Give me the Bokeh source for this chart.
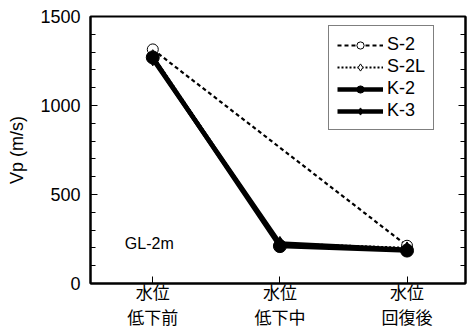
from bokeh.plotting import figure
from bokeh.models import Range1d, FixedTicker, LinearAxis, Legend, LegendItem
from bokeh.embed import file_html
from bokeh.resources import INLINE
from bokeh.core.properties import value

stages = ["水位\n低下前", "水位\n低下中", "水位\n回復後"]
xpos = [0, 1, 2]
s2_x = [0, 2]
s2_y = [1315, 212]
s2l = [1280, 225, 200]
k2 = [1270, 210, 185]
k3 = [1262, 225, 190]

FONT = "Liberation Sans"

p = figure(width=470, height=331, output_backend="svg", toolbar_location=None,
           x_range=Range1d(-0.49, 2.46), y_range=Range1d(0, 1500),
           min_border_left=90, min_border_right=5, min_border_top=16, min_border_bottom=48)
p.xgrid.visible = False
p.ygrid.visible = False
p.outline_line_color = "black"
p.outline_line_width = 2
p.background_fill_color = "white"
p.border_fill_color = "white"

r1l = p.line(s2_x, s2_y, line_color="black", line_width=2.2, line_dash="4 3")
r1m = p.scatter(s2_x, s2_y, marker="circle", size=11, fill_color="white", line_color="black", line_width=1)
r2l = p.line(xpos, s2l, line_color="black", line_width=2.2, line_dash="2 2")
r2m = p.scatter(xpos, s2l, marker="diamond", size=12, fill_color="white", line_color="black", line_width=1)
r3l = p.line(xpos, k2, line_color="black", line_width=4.5)
r3m = p.scatter(xpos, k2, marker="circle", size=13, fill_color="black", line_color="black")
r4l = p.line(xpos, k3, line_color="black", line_width=4.5)
r4m = p.scatter(xpos, k3, marker="diamond", size=14, fill_color="black", line_color="black")

p.text(x=[-0.22], y=[226], text=["GL-2m"], text_font=value(FONT), text_font_size="16px",
       text_baseline="middle", text_align="left", text_color="black")

yticks = [0, 500, 1000, 1500]
yminor = [i * 100 for i in range(16)]

p.yaxis.ticker = FixedTicker(ticks=yticks, minor_ticks=yminor)
p.yaxis.axis_label = "Vp (m/s)"
p.yaxis.axis_label_text_font = FONT
p.yaxis.axis_label_text_font_size = "18px"
p.yaxis.axis_label_text_font_style = "normal"
p.yaxis.axis_label_text_color = "black"
p.yaxis.axis_label_standoff = 10
p.yaxis.major_label_text_font = FONT
p.yaxis.major_label_text_font_size = "18px"
p.yaxis.major_label_text_color = "black"
p.yaxis.major_tick_in = 7
p.yaxis.major_tick_out = 0
p.yaxis.minor_tick_in = 5
p.yaxis.minor_tick_out = 0
p.yaxis.axis_line_width = 2
p.yaxis.major_label_standoff = 10

p.xaxis.ticker = FixedTicker(ticks=xpos)
p.xaxis.major_label_overrides = {x: s for x, s in zip(xpos, stages)}
p.xaxis.major_label_text_font = "Noto Sans CJK JP"
p.xaxis.major_label_text_font_size = "17px"
p.xaxis.major_label_text_color = "black"
p.xaxis.major_label_text_line_height = 1.0
p.xaxis.major_tick_in = 7
p.xaxis.major_tick_out = 0
p.xaxis.minor_tick_in = 0
p.xaxis.minor_tick_out = 0
p.xaxis.axis_line_width = 2
p.xaxis.major_label_standoff = -5

ry = LinearAxis(ticker=FixedTicker(ticks=yticks, minor_ticks=yminor))
ry.major_label_overrides = {t: "" for t in yticks}
ry.major_tick_in = 7
ry.major_tick_out = 0
ry.minor_tick_in = 5
ry.minor_tick_out = 0
ry.axis_line_width = 2
p.add_layout(ry, "right")

legend = Legend(items=[
    LegendItem(label="S-2", renderers=[r1l, r1m]),
    LegendItem(label="S-2L", renderers=[r2l, r2m]),
    LegendItem(label="K-2", renderers=[r3l, r3m]),
    LegendItem(label="K-3", renderers=[r4l, r4m]),
], location=(238, 153))
legend.label_text_font = FONT
legend.label_text_font_size = "18px"
legend.label_text_color = "black"
legend.glyph_width = 46
legend.glyph_height = 18
legend.label_height = 18
legend.spacing = 1
legend.padding = 8
legend.margin = 0
legend.label_standoff = 4
legend.border_line_color = "black"
legend.border_line_width = 1.5
legend.background_fill_alpha = 1
p.add_layout(legend, "center")

open("out.html", "w").write(file_html(p, INLINE))
